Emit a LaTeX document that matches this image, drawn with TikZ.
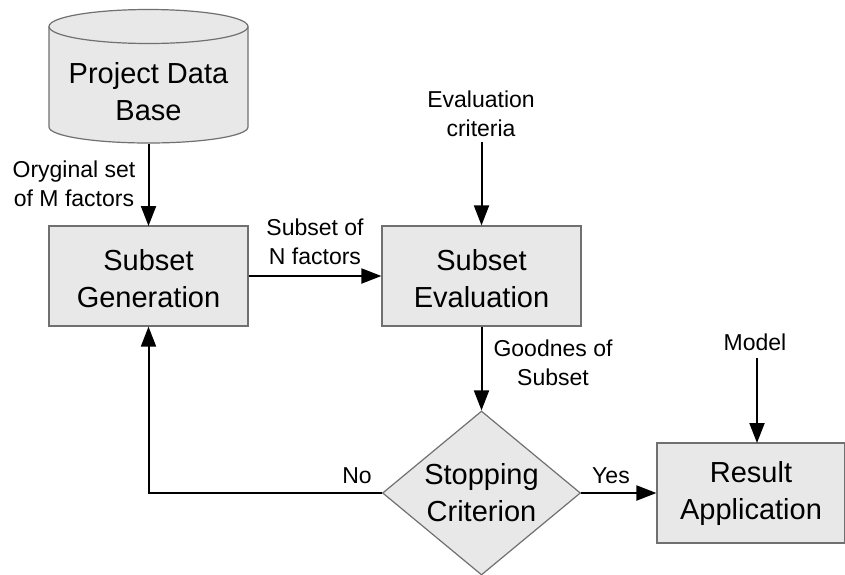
\documentclass[tikz,border=0pt]{standalone}
\usepackage{fontspec}
\setmainfont{Liberation Sans}
\usetikzlibrary{arrows.meta,shapes.geometric}
\definecolor{boxfill}{HTML}{E8E8E8}
\definecolor{boxline}{HTML}{707070}
\begin{document}
\begin{tikzpicture}[x=1pt,y=-1pt]
	\tikzstyle{block}=[draw=boxline,fill=boxfill,line width=1.2pt,minimum width=199pt,minimum height=100pt,inner sep=0pt,align=center,font=\fontsize{29}{37}\selectfont]
	\tikzstyle{lowered}=[text height=69pt,text depth=6pt]
	\tikzstyle{decision}=[block,diamond,minimum width=198pt,minimum height=164pt,aspect=1.2]
	\tikzstyle{caption}=[inner sep=0pt,align=center,font=\fontsize{23}{29.5}\selectfont]
	\tikzstyle{flow}=[line width=2pt,-{Triangle[length=20pt,width=15pt]}]
	\useasboundingbox (0,0) rectangle (845,574);
	\fill[white] (0,0) rectangle (845,574);

	% data base drum
	\draw[draw=boxline,fill=boxfill,line width=1.2pt] (49,26.5) -- (49,127)
	arc[start angle=180,end angle=360,x radius=99.5pt,y radius=16pt]
	-- (248,26.5)
	arc[start angle=0,end angle=180,x radius=99.5pt,y radius=17pt] -- cycle;
	\draw[draw=boxline,line width=1.2pt] (49,26.5)
	arc[start angle=180,end angle=360,x radius=99.5pt,y radius=17pt];

	\node[block,draw=none,fill=none,minimum height=102pt] (base) at (148.5,92) {Project Data\\Base};
	\node[block,lowered] (generation) at (148.5,276) {Subset\\Generation};
	\node[block,lowered] (evaluation) at (481.5,276) {Subset\\Evaluation};
	\node[decision] (stopping) at (481.5,493) {Stopping\\Criterion};
	\node[block,minimum width=188pt] (application) at (751,493) {Result\\Application};

	\coordinate (criteria) at (481.5,142);
	\coordinate (model) at (757,358);

	\draw[flow] (base.south) -- (148.5,226);
	\draw[flow] (generation) -- (evaluation);
	\draw[flow] (criteria) -- (evaluation.north);
	\draw[flow] (evaluation) -- (stopping);
	\draw[flow] (stopping) -- (application);
	\draw[flow] (model) -- (757,443);
	\draw[flow] (stopping.west) -- (148.5,493) -- (generation.south);

	\node[caption] (original) at (74,184) {Oryginal set\\of M factors};
	\node[caption] (subset) at (315,242) {Subset of\\N factors};
	\node[caption] (crit) at (481,114) {Evaluation\\criteria};
	\node[caption] (goodness) at (553,363) {Goodnes of\\Subset};
	\node[caption] (modellabel) at (755,342) {Model};
	\node[caption] (no) at (357,476) {No};
	\node[caption] (yes) at (611,476) {Yes};
\end{tikzpicture}
\end{document}
